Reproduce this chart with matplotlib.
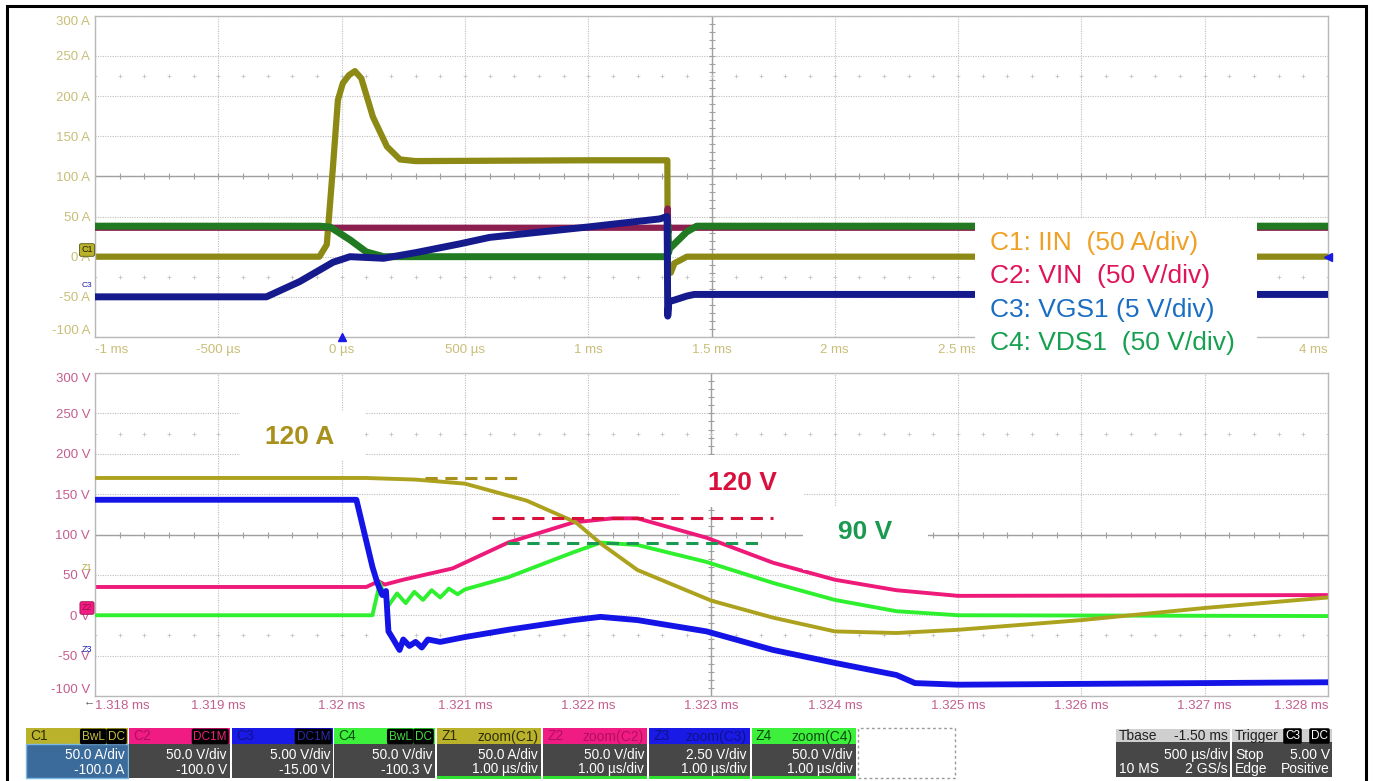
import numpy as np
import matplotlib.pyplot as plt
from matplotlib.patches import Rectangle

W, H = 1373, 781

# ---- top panel: 500 us/div, traces in screen units of the C1 scale ----
top_xticks = [-1.0, -0.5, 0.0, 0.5, 1.0, 1.5, 2.0, 2.5, 3.0, 3.5, 4.0]
# 3 ms and 3.5 ms sit under the legend box in the screenshot
top_xlabels = ["-1 ms", "-500 µs", "0 µs", "500 µs", "1 ms", "1.5 ms",
               "2 ms", "2.5 ms", "", "", "4 ms"]
top_yticks = [-100, -50, 0, 50, 100, 150, 200, 250, 300]
top_ylabels = ["-100 A", "-50 A", "0 A", "50 A", "100 A", "150 A", "200 A", "250 A", "300 A"]

iin_t = [-1.0, -0.09, -0.06, -0.035, -0.015, 0.005, 0.03, 0.054, 0.08, 0.127, 0.184,
         0.237, 0.30, 1.0, 1.321, 1.3225, 1.335, 1.35, 1.37, 1.40, 4.0]
iin_v = [0, 0, 15, 112, 195, 216, 226, 231, 222, 174, 137,
         121, 119, 120, 120, -5, -20, -8, -5, 0, 0]

vin_t = [-1.0, 1.320, 1.3222, 1.325, 1.33, 4.0]
vin_v = [36, 36, 60, 30, 36, 36]

vds_t = [-1.0, -0.09, -0.047, 0.034, 0.10, 0.17, 1.322, 1.3225, 1.326, 1.33, 1.40, 1.44, 4.0]
vds_v = [38, 38, 37, 21, 6, 0, 0, 40, 5, 10, 31, 38, 38]

vgs_t = [-1.0, -0.305, -0.17, -0.035, 0.034, 0.17, 0.30, 0.48, 0.60, 1.0, 1.29,
         1.320, 1.3225, 1.327, 1.35, 1.40, 1.43, 4.0]
vgs_v = [-50, -50, -31, -7, 0, -2, 5, 16, 24, 37, 47,
         50, -74, -56, -54, -49, -47, -47]

# ---- bottom panel: zoom, 1 us/div (x in ms), screen units in V ----
bot_xticks = [1.318, 1.319, 1.320, 1.321, 1.322, 1.323, 1.324, 1.325, 1.326, 1.327, 1.328]
bot_xlabels = ["1.318 ms", "1.319 ms", "1.32 ms", "1.321 ms", "1.322 ms", "1.323 ms",
               "1.324 ms", "1.325 ms", "1.326 ms", "1.327 ms", "1.328 ms"]
bot_yticks = [-100, -50, 0, 50, 100, 150, 200, 250, 300]
bot_ylabels = ["-100 V", "-50 V", "0 V", "50 V", "100 V", "150 V", "200 V", "250 V", "300 V"]

z_iin_t = [1.318, 1.3202, 1.3206, 1.321, 1.3215, 1.3219, 1.3221, 1.3224, 1.323,
           1.3235, 1.324, 1.3245, 1.325, 1.326, 1.327, 1.328]
z_iin_v = [170, 170, 168, 163, 142, 115, 89, 56, 18, -3, -20, -22, -18, -6, 9, 22]

z_vin_t = [1.318, 1.3202, 1.3203, 1.32035, 1.3205, 1.3209, 1.32135, 1.32188, 1.3222,
           1.3224, 1.32296, 1.3235, 1.324, 1.3245, 1.325, 1.328]
z_vin_v = [35, 35, 42, 38, 44, 58, 90, 115, 120, 120, 96, 65, 44, 31, 24, 25]

z_vds_t = [1.318, 1.32025, 1.32031, 1.32038, 1.32045, 1.32052, 1.32059, 1.32066, 1.32073,
           1.3208, 1.32087, 1.32094, 1.3210, 1.32135, 1.32188, 1.3221, 1.3224, 1.32296,
           1.3235, 1.324, 1.3245, 1.325, 1.328]
z_vds_v = [0, 0, 40, 12, 27, 15, 29, 19, 31,
           22, 33, 26, 32, 47, 78, 90, 87, 66,
           40, 19, 5, 0, -1]

z_vgs_t = [1.318, 1.32012, 1.32025, 1.32029, 1.32033, 1.32036, 1.32038, 1.32042, 1.32047,
           1.3205, 1.32055, 1.3206, 1.32065, 1.3207, 1.3208, 1.3209, 1.321, 1.32135,
           1.32188, 1.3221, 1.3224, 1.32296, 1.3235, 1.324, 1.3245, 1.32465, 1.325, 1.328]
z_vgs_v = [143, 143, 60, 40, 25, 30, -20, -30, -43,
           -30, -38, -33, -40, -30, -33, -30, -27, -18,
           -6, -2, -6, -20, -43, -59, -74, -84, -86, -83]

ref_levels = [170, 120, 90]
ref_x0 = [1.32068, 1.32122, 1.32134]
ref_x1 = [1.32146, 1.3235, 1.32338]
ref_labels = ["120 A", "120 V", "90 V"]

legend_lines = ["C1: IIN  (50 A/div)", "C2: VIN  (50 V/div)",
                "C3: VGS1 (5 V/div)", "C4: VDS1  (50 V/div)"]

ch_names = ["C1", "C2", "C3", "C4", "Z1", "Z2", "Z3", "Z4"]
ch_tags = [["BwL", "DC"], ["DC1M"], ["DC1M"], ["BwL", "DC"],
           ["zoom(C1)"], ["zoom(C2)"], ["zoom(C3)"], ["zoom(C4)"]]
ch_line1 = ["50.0 A/div", "50.0 V/div", "5.00 V/div", "50.0 V/div",
            "50.0 A/div", "50.0 V/div", "2.50 V/div", "50.0 V/div"]
ch_line2 = ["-100.0 A", "-100.0 V", "-15.00 V", "-100.3 V",
            "1.00 µs/div", "1.00 µs/div", "1.00 µs/div", "1.00 µs/div"]

plt.rcParams["font.family"] = ["Liberation Sans", "DejaVu Sans"]

# scope colours
OLIVE, PINK, BLUE, LIME = "#bab22a", "#f01c84", "#1a1ae6", "#3cf03c"
hdr_fill = [OLIVE, PINK, BLUE, LIME] * 2
hdr_text = ["#2e2e08", "#b0105e", "#10108a", "#0e4a0e"] * 2
tag_text = ["#c8c040", "#f0207a", "#2a2ab0", "#40e040"] * 2

fig = plt.figure(figsize=(W / 100, H / 100), dpi=100)


def fx(x):
    return x / W


def fy(y):
    return 1 - y / H


def put(x, y, s, **kw):
    return fig.text(fx(x), fy(y), s, **kw)


def rect(x0, y0, x1, y1, **kw):
    r = Rectangle((fx(x0), fy(y1)), (x1 - x0) / W, (y1 - y0) / H,
                  transform=fig.transFigure, **kw)
    fig.add_artist(r)
    return r


def scope_axes(bounds, xticks, xlabels, yticks, ylabels, lab_color, xc, yc, xpad):
    ax = fig.add_axes(bounds)
    ax.set_xlim(xticks[0], xticks[-1])
    ax.set_ylim(yticks[0], yticks[-1])
    ax.set_xticks(xticks)
    ax.set_xticklabels(xlabels)
    ax.set_yticks(yticks)
    ax.set_yticklabels(ylabels)
    ax.tick_params(length=0, labelsize=9.5, labelcolor=lab_color)
    ax.tick_params(axis="y", pad=3.5)
    ax.tick_params(axis="x", pad=xpad)
    xl = ax.get_xticklabels()
    xl[0].set_ha("left")
    xl[-1].set_ha("right")
    yl = ax.get_yticklabels()
    yl[0].set_va("bottom")
    yl[-1].set_va("top")
    for s in ax.spines.values():
        s.set_color("#b8b8b8")
        s.set_linewidth(1.0)
    ax.set_axisbelow(True)
    ax.grid(True, color="#bdbdbd", linestyle=(0, (1, 1.2)), linewidth=0.8)

    dx = (xticks[-1] - xticks[0]) / 10
    dy = (yticks[-1] - yticks[0]) / 8
    ax.axhline(yc, color="#a0a0a0", lw=1.0, zorder=1)
    ax.axvline(xc, color="#a0a0a0", lw=1.0, zorder=1)
    sub_x = xticks[0] + dx / 5 * np.arange(51)
    sub_y = yticks[0] + dy / 5 * np.arange(41)
    ax.plot(sub_x, np.full_like(sub_x, yc), ls="none", marker="|", ms=5, mew=0.8,
            color="#a0a0a0", zorder=1)
    ax.plot(np.full_like(sub_y, xc), sub_y, ls="none", marker="_", ms=5, mew=0.8,
            color="#a0a0a0", zorder=1)
    for row in (yc + 2.5 * dy, yc - 2.5 * dy):
        ax.plot(sub_x, np.full_like(sub_x, row), ls="none", marker="+", ms=3, mew=0.6,
                color="#c4c4c4", zorder=1)
    return ax


# ---------------- top panel ----------------
ax1 = scope_axes([fx(95), fy(337), (1328 - 95) / W, (337 - 15.7) / H],
                 top_xticks, top_xlabels, top_yticks, top_ylabels, "#c8be78",
                 1.5, 100, 5)
kw = dict(solid_joinstyle="round", solid_capstyle="round")
ax1.plot(iin_t, iin_v, color="#8c8a14", lw=4.5, zorder=2, **kw)
ax1.plot(vin_t, vin_v, color="#8b1f50", lw=4.5, zorder=3, **kw)
ax1.plot(vds_t, vds_v, color="#217a21", lw=5, zorder=4, **kw)
ax1.plot(vgs_t, vgs_v, color="#151a8c", lw=5, zorder=5, **kw)

# ---------------- bottom panel ----------------
ax2 = scope_axes([fx(95), fy(696), (1328 - 95) / W, (696 - 373) / H],
                 bot_xticks, bot_xlabels, bot_yticks, bot_ylabels, "#c45e8e",
                 1.323, 100, 3)
ax2.plot(z_vin_t, z_vin_v, color="#ee1a7a", lw=2.8, zorder=2, **kw)
ax2.plot(z_vds_t, z_vds_v, color="#2ef02e", lw=2.8, zorder=3, **kw)
ax2.plot(z_iin_t, z_iin_v, color="#aca21e", lw=2.8, zorder=4, **kw)
ax2.plot(z_vgs_t, z_vgs_v, color="#1414e6", lw=4.2, zorder=5, **kw)

ref_colors = ["#a8901a", "#d8103c", "#1a9a50"]
for lvl, a, b, c in zip(ref_levels, ref_x0, ref_x1, ref_colors):
    ax2.plot([a, b], [lvl, lvl], color=c, lw=2.2, ls=(0, (4, 2.5)), zorder=6)

# white label boxes and bold annotations
ann_boxes = [(240, 411, 365, 460), (680, 455, 803, 507), (803, 507, 928, 570)]
ann_pos = [(300, 437), (742, 483), (865, 532)]
for (x0, y0, x1, y1), (tx, ty), lab, c in zip(ann_boxes, ann_pos, ref_labels, ref_colors):
    rect(x0, y0, x1, y1, fc="white", ec="none", zorder=5)
    put(tx, ty, lab, color=c, fontsize=19, fontweight="bold", ha="center", va="center",
        zorder=6)

# legend box over the top panel
rect(975, 218, 1257, 362, fc="white", ec="none", zorder=5)
leg_colors = ["#f0a024", "#e0145a", "#1a6ec2", "#16a050"]
for i, (s, c) in enumerate(zip(legend_lines, leg_colors)):
    put(990, 243 + 33.3 * i, s, color=c, fontsize=19, ha="left", va="center", zorder=6)

# channel markers at the edges of the grids
put(87, 250, "C1", fontsize=6.5, color="#202008", ha="center", va="center", zorder=6,
    bbox=dict(boxstyle="round,pad=0.2", fc=OLIVE, ec="#555510", lw=0.6))
put(87, 286, "C3", fontsize=6, color="#1a1a9a", ha="center", va="center", zorder=6)
put(87, 568, "Z1", fontsize=6.5, color="#b0a840", ha="center", va="center", zorder=6)
put(87, 608, "Z2", fontsize=6.5, color="#a0104e", ha="center", va="center", zorder=6,
    bbox=dict(boxstyle="round,pad=0.2", fc=PINK, ec="#a0104e", lw=0.6))
put(87, 649, "Z3", fontsize=6.5, color="#2020b0", ha="center", va="center", zorder=6)
put(89, 701, "←", fontsize=8, color="#505050", ha="center", va="center", zorder=6)
ax1.plot([0.0], [-100], marker="^", ms=6, color="#1a1ae6", clip_on=False, zorder=7)
ax1.plot([4.0], [0], marker="<", ms=6, color="#1a1ae6", clip_on=False, zorder=7)

# ---------------- info bar ----------------
box_x = [(26, 128), (129, 230), (232, 333), (334, 435),
         (437, 541), (543, 647), (649, 750), (752, 856)]
for i, (x0, x1) in enumerate(box_x):
    rect(x0, 728, x1, 744, fc=hdr_fill[i], ec="none", zorder=5)
    body = "#3b6b9b" if i == 0 else "#474747"
    rect(x0, 744, x1, 778, fc=body, ec="#7ab8e8" if i == 0 else "none", lw=1, zorder=5)
    if i >= 4:
        rect(x0, 776, x1, 778.5, fc="#30e030", ec="none", zorder=6)
    put(x0 + 4, 736.5, ch_names[i], fontsize=10, color=hdr_text[i], ha="left",
        va="center", zorder=7)
    tags = ch_tags[i]
    if i < 4:
        right = x1 - 3
        for tg in reversed(tags):
            put(right, 736.5, tg, fontsize=8.5, color=tag_text[i], ha="right",
                va="center", zorder=7,
                bbox=dict(boxstyle="round,pad=0.15", fc="black", ec="none"))
            right -= 8 + 6.2 * len(tg)
    else:
        put(x1 - 3, 736.5, tags[0], fontsize=10, color=hdr_text[i], ha="right",
            va="center", zorder=7)
    put(x1 - 3, 755, ch_line1[i], fontsize=9.8, color="white", ha="right",
        va="center", zorder=7)
    put(x1 - 3, 769.5, ch_line2[i], fontsize=9.8, color="white", ha="right",
        va="center", zorder=7)

rect(858, 728, 955, 778, fc="white", ec="#9a9a9a", lw=1, ls=(0, (2, 2)), zorder=5)

# timebase + trigger boxes
rect(1116, 729, 1230, 742, fc="#cfcfcf", ec="none", zorder=5)
rect(1116, 742, 1230, 777, fc="#474747", ec="none", zorder=5)
rect(1232, 729, 1332, 742, fc="#cfcfcf", ec="none", zorder=5)
rect(1232, 742, 1332, 777, fc="#474747", ec="none", zorder=5)
put(1119, 736, "Tbase", fontsize=10, color="#202020", ha="left", va="center", zorder=7)
put(1228, 736, "-1.50 ms", fontsize=10, color="#202020", ha="right", va="center", zorder=7)
put(1228, 755, "500 µs/div", fontsize=10, color="white", ha="right", va="center", zorder=7)
put(1119, 769, "10 MS", fontsize=10, color="white", ha="left", va="center", zorder=7)
put(1228, 769, "2 GS/s", fontsize=10, color="white", ha="right", va="center", zorder=7)
put(1235, 736, "Trigger", fontsize=10, color="#202020", ha="left", va="center", zorder=7)
for tx, tg in ((1300, "C3"), (1328, "DC")):
    put(tx, 736, tg, fontsize=8.5, color="white", ha="right", va="center", zorder=7,
        bbox=dict(boxstyle="round,pad=0.15", fc="black", ec="none"))
put(1235, 755, "Stop", fontsize=10, color="white", ha="left", va="center", zorder=7)
put(1330, 755, "5.00 V", fontsize=10, color="white", ha="right", va="center", zorder=7)
put(1235, 769, "Edge", fontsize=10, color="white", ha="left", va="center", zorder=7)
put(1330, 769, "Positive", fontsize=10, color="white", ha="right", va="center", zorder=7)

# outer black frame of the screenshot
rect(7, 6, 1366, 800, fc="none", ec="black", lw=2.2, zorder=8)

fig.savefig("out.png", dpi=100, facecolor="white")
